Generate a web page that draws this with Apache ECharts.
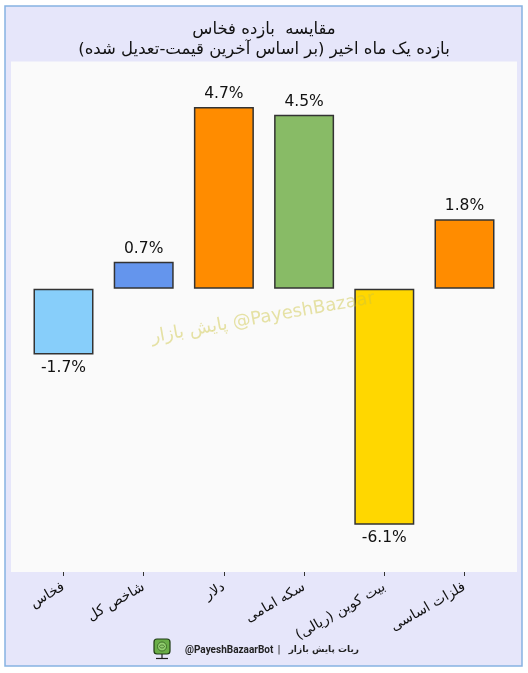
<!DOCTYPE html>
<html>
<head>
<meta charset="utf-8">
<script src="https://cdn.jsdelivr.net/npm/echarts@6/dist/echarts.min.js"></script>
<style>
html,body{margin:0;padding:0;background:#ffffff;}
#chart{width:528px;height:673px;}
</style>
</head>
<body>
<div id="chart"></div>
<script>
// ---- data ----
const RLM = '\u200F';
const categories = ['فخاس', 'شاخص کل', 'دلار', 'سکه امامی', 'بیت کوین (ریالی)' + RLM, 'فلزات اساسی'];
const values = [-1.7, 0.7, 4.7, 4.5, -6.1, 1.8];
const barColors = ['#87CEFA', '#6495ED', '#FF8C00', '#88BB66', '#FFD700', '#FF8C00'];
const titleLine1 = 'مقایسه  بازده فخاس';
const titleLine2 = 'بازده یک ماه اخیر (بر اساس آخرین قیمت-تعدیل شده)' + RLM;
const watermarkText = 'پایش بازار @PayeshBazaar';
const footerHandle = '@PayeshBazaarBot';
const footerName = 'ربات پایش بازار';

const chart = echarts.init(document.getElementById('chart'), null, {renderer: 'canvas'});

const option = {
  backgroundColor: '#ffffff',
  animation: false,
  title: {
    text: titleLine1 + '\n' + titleLine2,
    left: 'center',
    top: 15,
    textStyle: {
      fontFamily: 'DejaVu Sans',
      fontSize: 16.5,
      fontWeight: 'normal',
      color: '#111111',
      lineHeight: 20
    }
  },
  grid: {left: 23.4, right: 23.4, top: 61.5, bottom: 101},
  xAxis: {
    type: 'category',
    position: 'bottom',
    data: categories,
    axisLine: {show: false, onZero: false},
    axisTick: {show: true, alignWithLabel: true, length: 4, lineStyle: {color: '#333333', width: 1}},
    axisLabel: {
      interval: 0,
      rotate: 30,
      margin: 14,
      fontFamily: 'DejaVu Sans',
      fontSize: 14,
      color: '#111111'
    },
    splitLine: {show: false}
  },
  yAxis: {
    type: 'value',
    min: -7.32,
    max: 5.875,
    show: false,
    splitLine: {show: false}
  },
  graphic: {
    elements: [
      {type: 'rect', z: -20, silent: true,
       shape: {x: 5, y: 6, width: 517, height: 660},
       style: {fill: '#e6e6fa', stroke: '#86b3e2', lineWidth: 1.5}},
      {type: 'rect', z: -19, silent: true,
       shape: {x: 11, y: 61.5, width: 506, height: 510.5},
       style: {fill: '#fafafa'}},
      {type: 'text', z: 50, silent: true,
       x: 263, y: 318, rotation: 10 * Math.PI / 180,
       style: {text: watermarkText, font: '18px "DejaVu Sans"', fill: 'rgba(205,195,60,0.45)',
               align: 'center', verticalAlign: 'middle'}},
      // footer icon
      {type: 'rect', z: 5, silent: true,
       shape: {x: 154, y: 639, width: 16, height: 15, r: 3},
       style: {fill: '#6aae48', stroke: '#1f3b15', lineWidth: 1.2}},
      {type: 'circle', z: 6, silent: true,
       shape: {cx: 162, cy: 646.5, r: 4.5},
       style: {fill: '#93cf70', stroke: '#2f5c1d', lineWidth: 0.8}},
      {type: 'ellipse', z: 7, silent: true,
       shape: {cx: 162, cy: 646.5, rx: 2.4, ry: 1.5},
       style: {fill: 'none', stroke: '#2f5c1d', lineWidth: 0.7}},
      {type: 'line', z: 5, silent: true,
       shape: {x1: 162, y1: 654, x2: 162, y2: 658},
       style: {stroke: '#1f1f1f', lineWidth: 1.2}},
      {type: 'line', z: 5, silent: true,
       shape: {x1: 156, y1: 658.5, x2: 168, y2: 658.5},
       style: {stroke: '#1f1f1f', lineWidth: 1.2}},
      {type: 'text', z: 5, silent: true, x: 185, y: 650,
       style: {text: footerHandle, font: 'bold 10px Roboto', fill: '#222222',
               align: 'left', verticalAlign: 'middle'}},
      {type: 'text', z: 5, silent: true, x: 279, y: 650,
       style: {text: '|', font: 'bold 10px Roboto', fill: '#222222',
               align: 'center', verticalAlign: 'middle'}},
      {type: 'text', z: 5, silent: true, x: 359, y: 650,
       style: {text: footerName, font: 'bold 9px "DejaVu Sans"', fill: '#222222',
               align: 'right', verticalAlign: 'middle'}}
    ]
  },
  series: [{
    type: 'bar',
    barWidth: 60,
    data: values.map((v, i) => ({
      value: v,
      itemStyle: {color: barColors[i]},
      label: {position: v >= 0 ? 'top' : 'bottom'}
    })),
    itemStyle: {borderColor: '#333333', borderWidth: 1.5},
    label: {
      show: true,
      distance: 5,
      fontFamily: 'DejaVu Sans',
      fontSize: 15.5,
      color: '#111111',
      formatter: p => p.value.toFixed(1) + '%'
    }
  }]
};
chart.setOption(option);
</script>
</body>
</html>
